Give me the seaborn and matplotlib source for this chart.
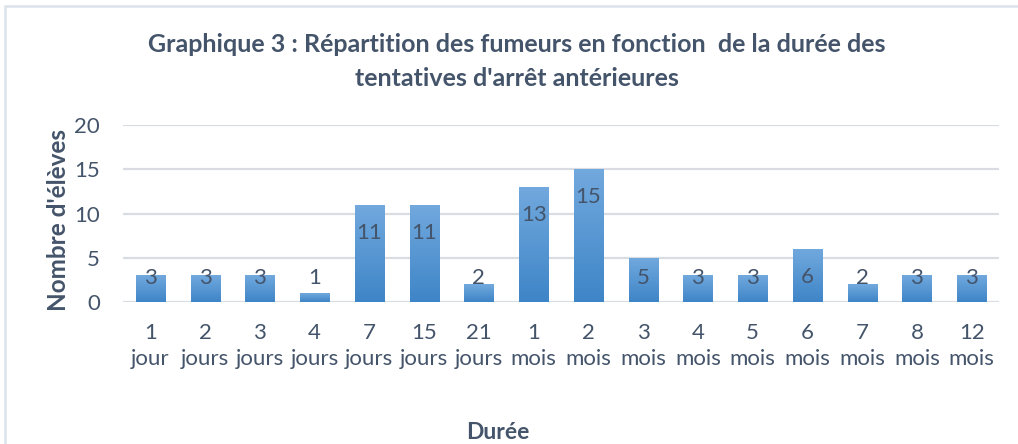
import numpy as np
import pandas as pd
import matplotlib
matplotlib.use("Agg")
import matplotlib.pyplot as plt
import seaborn as sns
from matplotlib.patches import Rectangle

# Durée des tentatives d'arrêt et nombre d'élèves
durees = ["1\njour", "2\njours", "3\njours", "4\njours", "7\njours", "15\njours",
          "21\njours", "1\nmois", "2\nmois", "3\nmois", "4\nmois", "5\nmois",
          "6\nmois", "7\nmois", "8\nmois", "12\nmois"]
eleves = [3, 3, 3, 1, 11, 11, 2, 13, 15, 5, 3, 3, 6, 2, 3, 3]
yticks = [0, 5, 10, 15, 20]

TEXT = "#44546a"
GRID = "#d9dde3"
TOP_BLUE = "#72a9de"
BOTTOM_BLUE = "#3e85c7"

sns.set_theme(style="white")
plt.rcParams["font.family"] = ["Lato", "DejaVu Sans"]

df = pd.DataFrame({"duree": durees, "eleves": eleves})

fig = plt.figure(figsize=(10.18, 4.44), dpi=100)
fig.patch.set_facecolor("white")

# light frame around the chart area
frame = Rectangle((5 / 1018, -0.05), 1.2, (444 - 6) / 444 + 0.05,
                  transform=fig.transFigure, fill=False,
                  edgecolor="#dce2ea", linewidth=1.8, zorder=0)
fig.add_artist(frame)

ax = fig.add_axes([123 / 1018, 142 / 444, 876 / 1018, 177 / 444])
sns.barplot(data=df, x="duree", y="eleves", ax=ax, color=BOTTOM_BLUE,
            width=0.53, saturation=1, zorder=3)

# vertical gradient fill on each bar
grad = np.linspace(0, 1, 256).reshape(-1, 1)
cmap = matplotlib.colors.LinearSegmentedColormap.from_list("bar", [BOTTOM_BLUE, TOP_BLUE])
for p in ax.patches:
    x0, y0 = p.get_x(), p.get_y()
    w, h = p.get_width(), p.get_height()
    im = ax.imshow(grad, cmap=cmap, origin="lower", aspect="auto",
                   extent=(x0, x0 + w, y0, y0 + h), zorder=3.5, interpolation="bicubic")
    im.set_clip_path(p)
    p.set_edgecolor("none")

ax.set_xlim(-0.5, len(durees) - 0.5)
ax.set_ylim(0, 20)
ax.set_yticks(yticks)
ax.grid(axis="y", color=GRID, linewidth=1.6, zorder=0)
ax.set_axisbelow(True)
for s in ax.spines.values():
    s.set_visible(False)

ax.tick_params(axis="both", length=0, colors=TEXT, labelsize=16)
ax.tick_params(axis="x", pad=15)
ax.tick_params(axis="y", pad=16.5)
for lbl in ax.get_xticklabels():
    lbl.set_linespacing(1.41)
ax.set_xlabel("")
ax.set_ylabel("")

# value labels just inside the top of each bar
for i, v in enumerate(eleves):
    ax.text(i, max(v - 3.15, 2.7), str(v), ha="center", va="center",
            fontsize=16, color=TEXT, zorder=5)

fig.text(517 / 1018, 1 - 45 / 444,
         "Graphique 3 : Répartition des fumeurs en fonction  de la durée des",
         ha="center", va="center", fontsize=18, fontweight="bold", color=TEXT)
fig.text(517 / 1018, 1 - 78 / 444, "tentatives d'arrêt antérieures",
         ha="center", va="center", fontsize=18, fontweight="bold", color=TEXT)
fig.text(58 / 1018, 1 - 220 / 444, "Nombre d'élèves", rotation=90,
         ha="center", va="center", fontsize=17.5, fontweight="bold", color=TEXT)
fig.text(498 / 1018, 1 - 432 / 444, "Durée",
         ha="center", va="center", fontsize=16.5, fontweight="bold", color=TEXT)

fig.savefig("out.png", dpi=100, facecolor="white")
